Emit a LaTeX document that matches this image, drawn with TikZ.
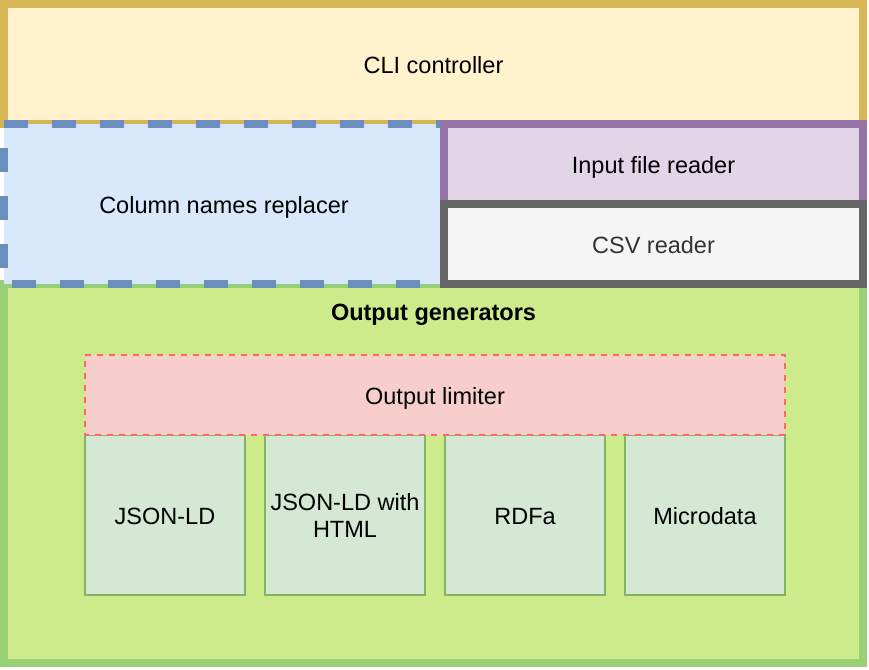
\documentclass[tikz,border=0pt]{standalone}
\usepackage{fontspec}
\setmainfont{Liberation Sans}
\definecolor{cliF}{HTML}{FFF2CC}
\definecolor{cliD}{HTML}{D6B656}
\definecolor{cnF}{HTML}{DAE8FC}
\definecolor{cnD}{HTML}{6C8EBF}
\definecolor{inF}{HTML}{E1D5E7}
\definecolor{inD}{HTML}{9673A6}
\definecolor{csvF}{HTML}{F5F5F5}
\definecolor{csvD}{HTML}{666666}
\definecolor{csvT}{HTML}{333333}
\definecolor{ogF}{HTML}{CDEB8B}
\definecolor{ogD}{HTML}{97D077}
\definecolor{limF}{HTML}{F8CECC}
\definecolor{limD}{HTML}{FF6666}
\definecolor{genF}{HTML}{D5E8D4}
\definecolor{genD}{HTML}{82B366}
\begin{document}
\begin{tikzpicture}[x=1pt,y=-1pt,
  base/.style={rectangle, inner sep=0pt, outer sep=0pt,
    font=\fontsize{23.5}{27}\selectfont, align=center},
  oneline/.style={text height=19.5pt, text depth=0pt},
  thickbox/.style={base, oneline, line width=8pt},
  genbox/.style={base, fill=genF, draw=genD, line width=2pt,
    minimum width=160pt, minimum height=160pt}]
\useasboundingbox (0,0) rectangle (869,669);
% CLI controller
\node[thickbox, fill=cliF, draw=cliD, minimum width=859pt, minimum height=120pt]
  (cli) at (433.5,64) {CLI controller};
% Output generators
\node[thickbox, fill=ogF, draw=ogD, minimum width=859pt, minimum height=379pt]
  (og) at (433.5,473.5) {};
\node[base, oneline, font=\fontsize{23.5}{27}\selectfont\bfseries]
  (ogt) at ([yshift=-27pt]og.north) {Output generators};
% generator boxes
\node[genbox, oneline] (g1) at (165,515) {JSON-LD};
\node[genbox] (g2) at (345,515) {JSON-LD with\\HTML};
\node[genbox, oneline] (g3) at (525,515) {RDFa};
\node[genbox, oneline] (g4) at (705,515) {Microdata};
% Output limiter
\node[base, oneline, fill=limF, minimum width=700pt, minimum height=80pt]
  (lim) at (435,395) {Output limiter};
\draw[limD, line width=2pt, dash pattern=on 6pt off 6pt]
  (lim.north west) -- (lim.north east) -- (lim.south east) -- (lim.south west) -- cycle;
% Column names replacer
\node[thickbox, fill=cnF, minimum width=440pt, minimum height=160pt]
  (cn) at (224,204) {Column names replacer};
\draw[cnD, line width=8pt, dash pattern=on 24pt off 24pt]
  (cn.north west) -- (cn.north east) -- (cn.south east) -- (cn.south west) -- cycle;
% Input file reader
\node[thickbox, fill=inF, draw=inD, minimum width=419pt, minimum height=80pt]
  (in) at (653.5,164) {Input file reader};
% CSV reader
\node[thickbox, fill=csvF, draw=csvD, text=csvT, minimum width=419pt, minimum height=80pt]
  (csv) at (653.5,244) {CSV reader};
\end{tikzpicture}
\end{document}
